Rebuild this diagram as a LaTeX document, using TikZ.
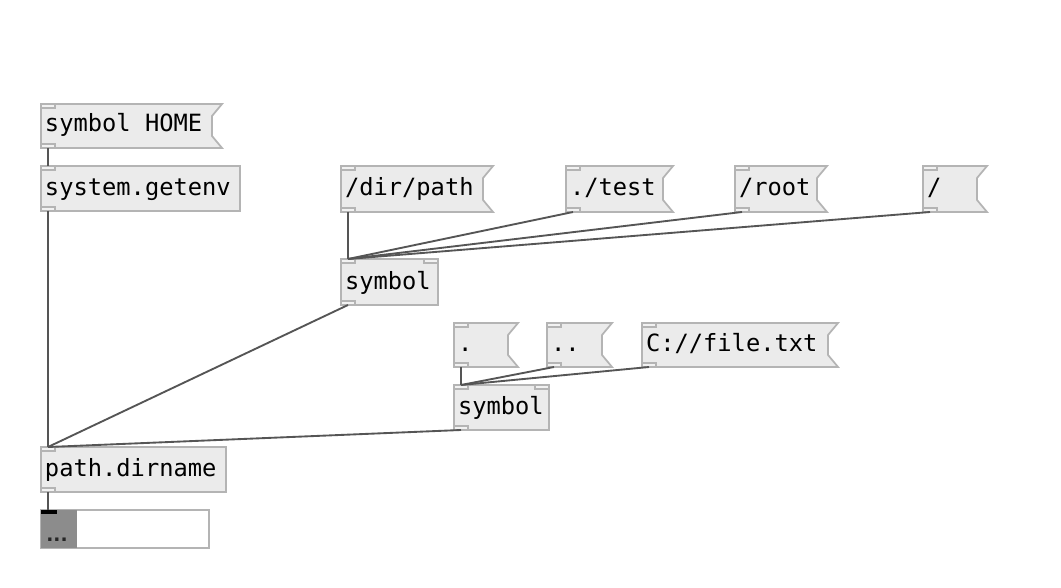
\documentclass[tikz,border=0pt]{standalone}
\usepackage{fontspec}
\setmonofont{DejaVu Sans Mono}
\newfontfamily\dotsfont{DejaVu Sans}
\usetikzlibrary{calc}
\definecolor{boxfill}{HTML}{EBEBEB}
\definecolor{boxline}{HTML}{B4B4B4}
\definecolor{tabfill}{HTML}{F2F2F2}
\definecolor{wirecol}{HTML}{555555}
\definecolor{atomgrey}{HTML}{8C8C8C}
\tikzset{
  objbox/.style={draw=boxline, fill=boxfill, line width=1.3pt, inner sep=0pt, outer sep=0pt},
  hidbox/.style={inner sep=0pt, outer sep=0pt},
  pdtext/.style={inner sep=0pt, outer sep=0pt, font=\ttfamily\fontsize{17.8}{20}\selectfont, text=black},
  tab/.style={draw=boxline, fill=tabfill, line width=1pt},
  wire/.style={draw=wirecol, line width=1.4pt},
}
% object box: name x1 y1 x2 y2 text
\newcommand\pdobj[6]{%
  \node[objbox, anchor=north west, minimum width={(#4-#2)*0.75pt}, minimum height={(#5-#3)*0.75pt}] (#1) at (#2,#3) {};
  \node[pdtext, anchor=base west] (#1-t) at (#2+4,#5-15.5) {#6};
  \path[tab] (#2,#3) rectangle (#2+14,#3+4);
  \path[tab] (#2,#5) rectangle (#2+14,#5-4);
}
\newcommand\pdrin[2]{% right inlet: x2 y1
  \path[tab] (#1-14,#2) rectangle (#1,#2+4);
}
% message box: name x1 y1 x2 y2 text
\newcommand\pdmsg[6]{%
  \node[hidbox, anchor=north west, minimum width={(#4-#2)*0.75pt}, minimum height={(#5-#3)*0.75pt}] (#1) at (#2,#3) {};
  \path[objbox] (#1.north west) -- (#1.north east) -- ($(#1.north east)+(-10,12)$) -- ($(#1.south east)+(-10,-12)$) -- (#1.south east) -- (#1.south west) -- cycle;
  \node[pdtext, anchor=base west] (#1-t) at (#2+4,#5-16) {#6};
  \path[tab] (#2,#3) rectangle (#2+14,#3+4);
  \path[tab] (#2,#5) rectangle (#2+14,#5-4);
}
\newcommand\wireto[2]{\path[wire] ($(#1.south west)+(7,0)$) -- ($(#2.north west)+(7,0)$);}
\begin{document}
\begin{tikzpicture}[x=0.75pt, y=-0.75pt]
\useasboundingbox[fill=white] (0,0) rectangle (1061,588);

\pdmsg{home}{41}{104}{222}{148}{symbol HOME}
\pdobj{getenv}{41}{166}{240}{211}{system.getenv}

\pdmsg{dirpath}{341}{166}{493}{212}{/dir/path}
\pdmsg{test}{566}{166}{673}{212}{./test}
\pdmsg{root}{735}{166}{827}{212}{/root}
\pdmsg{slash}{923}{166}{987}{212}{/}

\pdobj{symA}{341}{259}{438}{305}{symbol}
\pdrin{438}{259}

\pdmsg{dot}{454}{323}{518}{367}{.}
\pdmsg{dotdot}{547}{323}{612}{367}{..}
\pdmsg{file}{642}{323}{838}{367}{C://file.txt}

\pdobj{symB}{454}{385}{549}{430}{symbol}
\pdrin{549}{385}

\pdobj{dirname}{41}{447}{226}{492}{path.dirname}

% output list box
\node[draw=boxline, fill=white, line width=1.3pt, inner sep=0pt, outer sep=0pt, anchor=north west,
      minimum width={168*0.75pt}, minimum height={38*0.75pt}] (out) at (41,510) {};
\node[fill=atomgrey, inner sep=0pt, outer sep=0pt, anchor=north west,
      minimum width={36*0.75pt}, minimum height={38*0.75pt}] (outl) at (41,510) {};
\node[inner sep=0pt, anchor=base, font=\dotsfont\bfseries\fontsize{14}{16}\selectfont, text=black!85] (outdots) at (57,541) {...};
\fill[black] (41,510) rectangle (57,514);

% connections
\wireto{home}{getenv}
\wireto{getenv}{dirname}
\wireto{dirpath}{symA}
\wireto{test}{symA}
\wireto{root}{symA}
\wireto{slash}{symA}
\wireto{symA}{dirname}
\wireto{dot}{symB}
\wireto{dotdot}{symB}
\wireto{file}{symB}
\wireto{symB}{dirname}
\wireto{dirname}{out}
\end{tikzpicture}
\end{document}
